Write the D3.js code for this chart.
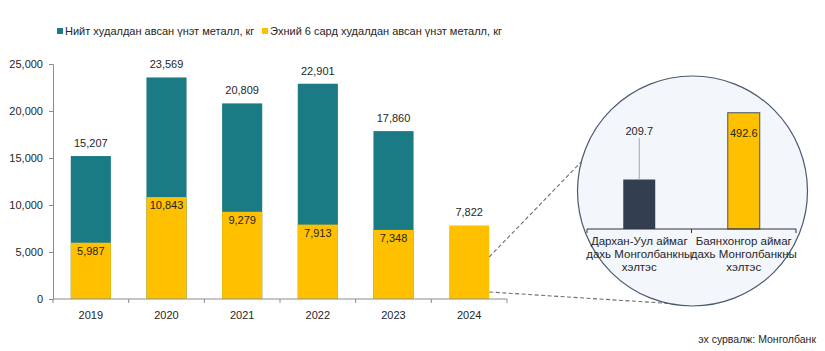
<!DOCTYPE html>
<html>
<head>
<meta charset="utf-8">
<script src="https://cdn.jsdelivr.net/npm/d3@7"></script>
<style>
    body { margin: 0; background: #fff; }
    text { font-family: "Liberation Sans", Arial, sans-serif; fill: #262626; }
</style>
</head>
<body>
<div id="container"></div>
<script>
let w = 825;
let h = 351;

// DATA
let years = ["2019", "2020", "2021", "2022", "2023", "2024"];
let totalMetal = [15207, 23569, 20809, 22901, 17860, null];
let firstHalfMetal = [5987, 10843, 9279, 7913, 7348, 7822];
let yTicks = [0, 5000, 10000, 15000, 20000, 25000];
let legendLabels = ["Нийт худалдан авсан үнэт металл, кг", "Эхний 6 сард худалдан авсан үнэт металл, кг"];
let branchNames = ["Дархан-Уул аймаг дахь Монголбанкны хэлтэс", "Баянхонгор аймаг дахь Монголбанкны хэлтэс"];
let branchLines = [["Дархан-Уул аймаг", "дахь Монголбанкны", "хэлтэс"], ["Баянхонгор аймаг", "дахь Монголбанкны", "хэлтэс"]];
let branchValues = [209.7, 492.6];
let sourceText = "эх сурвалж: Монголбанк";

let teal = "#1b7b85";
let gold = "#ffc000";
let axisColor = "#8c8c8c";

let viz = d3.select("#container").append("svg")
    .attr("width", w)
    .attr("height", h)
    .style("display", "block");

// SCALES
let x = d3.scaleBand().domain(years).range([53, 507]).paddingInner(0.47).paddingOuter(0.235);
let y = d3.scaleLinear().domain([0, 25000]).range([299, 64]);
let fmt = d3.format(",");

// LEGEND
let legend = viz.append("g");
let legendX = [57, 262];
[teal, gold].forEach((c, i) => {
    legend.append("rect").attr("x", legendX[i]).attr("y", 28).attr("width", 6).attr("height", 6).attr("fill", c);
    legend.append("text").attr("x", legendX[i] + 8).attr("y", 35).attr("font-size", 11).text(legendLabels[i]);
});

// Y AXIS
let yAxis = viz.append("g")
    .attr("transform", "translate(53,0)")
    .call(d3.axisLeft(y).tickValues(yTicks).tickSize(4).tickPadding(6).tickFormat(fmt));
yAxis.selectAll("path, line").attr("stroke", axisColor);
yAxis.selectAll("text").attr("font-size", 11).attr("fill", "#262626").style("font-family", "Liberation Sans, Arial, sans-serif");

// BARS
let bars = viz.append("g");
bars.selectAll(".total").data(years.filter((d, i) => totalMetal[i] != null)).enter()
    .append("rect")
    .attr("class", "total")
    .attr("x", d => x(d))
    .attr("width", x.bandwidth())
    .attr("y", d => y(totalMetal[years.indexOf(d)]))
    .attr("height", d => y(0) - y(totalMetal[years.indexOf(d)]))
    .attr("fill", teal);

bars.selectAll(".half").data(years).enter()
    .append("rect")
    .attr("class", "half")
    .attr("x", d => x(d))
    .attr("width", x.bandwidth())
    .attr("y", (d, i) => y(firstHalfMetal[i]))
    .attr("height", (d, i) => y(0) - y(firstHalfMetal[i]))
    .attr("fill", gold);

// LABELS
bars.selectAll(".totalLabel").data(years).enter()
    .append("text")
    .attr("x", d => x(d) + x.bandwidth() / 2)
    .attr("y", (d, i) => y(totalMetal[i] != null ? totalMetal[i] : firstHalfMetal[i]) - 9)
    .attr("text-anchor", "middle")
    .attr("font-size", 11)
    .text((d, i) => fmt(totalMetal[i] != null ? totalMetal[i] : firstHalfMetal[i]));

bars.selectAll(".halfLabel").data(years.filter((d, i) => totalMetal[i] != null)).enter()
    .append("text")
    .attr("x", d => x(d) + x.bandwidth() / 2)
    .attr("y", d => y(firstHalfMetal[years.indexOf(d)]) + 12)
    .attr("text-anchor", "middle")
    .attr("font-size", 11)
    .text(d => fmt(firstHalfMetal[years.indexOf(d)]));

// X AXIS
let xAxis = viz.append("g").attr("transform", "translate(0," + y(0) + ")");
xAxis.append("line").attr("x1", 53).attr("x2", 507).attr("stroke", axisColor);
xAxis.selectAll(".xt").data(d3.range(years.length + 1)).enter()
    .append("line")
    .attr("x1", i => 53 + i * x.step()).attr("x2", i => 53 + i * x.step())
    .attr("y1", 0).attr("y2", 4)
    .attr("stroke", axisColor);
xAxis.selectAll(".xl").data(years).enter()
    .append("text")
    .attr("x", d => x(d) + x.bandwidth() / 2)
    .attr("y", 20)
    .attr("text-anchor", "middle")
    .attr("font-size", 11)
    .text(d => d);

// ZOOM CIRCLE
let cx = 692.5, cy = 191, r = 115;
let barRight = x("2024") + x.bandwidth();
let angTop = 194.7 * Math.PI / 180, angBot = 102.3 * Math.PI / 180;
let dashes = [
    [[barRight, 257], [cx + r * Math.cos(angTop), cy + r * Math.sin(angTop)]],
    [[barRight, 292], [cx + r * Math.cos(angBot), cy + r * Math.sin(angBot)]]
];
viz.selectAll(".dash").data(dashes).enter()
    .append("line")
    .attr("x1", d => d[0][0]).attr("y1", d => d[0][1])
    .attr("x2", d => d[1][0]).attr("y2", d => d[1][1])
    .attr("stroke", "#6e6e6e")
    .attr("stroke-width", 1.1)
    .attr("stroke-dasharray", "4,2.5");

viz.append("circle")
    .attr("cx", cx).attr("cy", cy).attr("r", r)
    .attr("fill", "#f3f6fb")
    .attr("stroke", "#4a5a70")
    .attr("stroke-width", 1.2);

// INSET CHART
let x2 = d3.scaleBand().domain(branchNames).range([587, 796]).paddingInner(0.694).paddingOuter(0.347);
let y2 = d3.scaleLinear().domain([0, 500]).range([229, 111]);
let inset = viz.append("g");

inset.selectAll(".ib").data(branchNames).enter()
    .append("rect")
    .attr("x", d => x2(d))
    .attr("width", x2.bandwidth())
    .attr("y", (d, i) => y2(branchValues[i]))
    .attr("height", (d, i) => y2(0) - y2(branchValues[i]))
    .attr("fill", (d, i) => i === 0 ? "#333f50" : gold)
    .attr("stroke", (d, i) => i === 0 ? "none" : "#44546a")
    .attr("stroke-width", 1);

// first label sits above with a leader line, second inside bar top
let c0 = x2(branchNames[0]) + x2.bandwidth() / 2;
inset.append("line")
    .attr("x1", c0).attr("x2", c0)
    .attr("y1", 138).attr("y2", y2(branchValues[0]))
    .attr("stroke", "#a6a6a6");
inset.append("text")
    .attr("x", c0).attr("y", 135)
    .attr("text-anchor", "middle").attr("font-size", 11)
    .text(branchValues[0]);
inset.append("text")
    .attr("x", x2(branchNames[1]) + x2.bandwidth() / 2).attr("y", y2(branchValues[1]) + 24)
    .attr("text-anchor", "middle").attr("font-size", 11)
    .text(branchValues[1]);

inset.append("line").attr("x1", 587).attr("x2", 796).attr("y1", 229).attr("y2", 229).attr("stroke", "#333");
inset.selectAll(".it").data(d3.range(branchNames.length + 1)).enter()
    .append("line")
    .attr("x1", i => 587 + i * x2.step()).attr("x2", i => 587 + i * x2.step())
    .attr("y1", 229).attr("y2", 233)
    .attr("stroke", "#333");

branchNames.forEach((b, i) => {
    let t = inset.append("text")
        .attr("text-anchor", "middle")
        .attr("font-size", 11.5);
    branchLines[i].forEach((line, j) => {
        t.append("tspan")
            .attr("x", x2(b) + x2.bandwidth() / 2)
            .attr("y", 245 + j * 13)
            .text(line);
    });
});

// SOURCE
viz.append("text")
    .attr("x", 816).attr("y", 343)
    .attr("text-anchor", "end")
    .attr("font-size", 10.5)
    .text(sourceText);
</script>
</body>
</html>
